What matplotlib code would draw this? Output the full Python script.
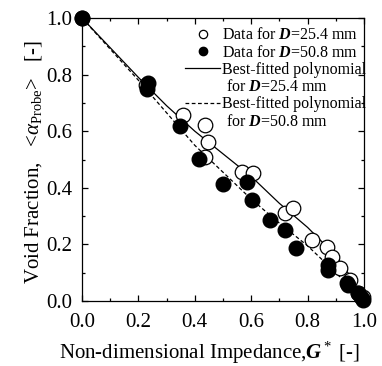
import matplotlib
matplotlib.use("Agg")
import matplotlib.pyplot as plt
from matplotlib.lines import Line2D
from matplotlib.ticker import MultipleLocator

plt.rcParams["font.family"] = ["Liberation Serif", "DejaVu Serif"]
plt.rcParams["mathtext.fontset"] = "custom"
plt.rcParams["mathtext.rm"] = "Liberation Serif"
plt.rcParams["mathtext.it"] = "Liberation Serif:italic"
plt.rcParams["mathtext.bf"] = "Liberation Serif:italic:bold"

# data for D = 25.4 mm (open circles)
g_254 = [0.0, 0.228, 0.359, 0.436, 0.448, 0.436, 0.566, 0.607, 0.72, 0.749,
         0.814, 0.868, 0.885, 0.915, 0.95, 0.98, 0.995]
a_254 = [1.0, 0.765, 0.657, 0.622, 0.563, 0.51, 0.457, 0.451, 0.31, 0.327,
         0.216, 0.19, 0.157, 0.116, 0.074, 0.03, 0.015]

# data for D = 50.8 mm (filled circles)
g_508 = [0.0, 0.233, 0.229, 0.348, 0.416, 0.501, 0.586, 0.604, 0.667, 0.72,
         0.759, 0.871, 0.873, 0.939, 0.944, 0.978, 0.99, 0.998]
a_508 = [1.0, 0.769, 0.748, 0.618, 0.502, 0.413, 0.422, 0.357, 0.286, 0.251,
         0.186, 0.127, 0.11, 0.062, 0.057, 0.03, 0.013, 0.005]

# best-fitted polynomial curves
fit_g = [0.0, 0.1, 0.2, 0.3, 0.4, 0.5, 0.6, 0.7, 0.8, 0.9, 0.95, 1.0]
fit_254 = [1.0, 0.895, 0.79, 0.69, 0.60, 0.52, 0.44, 0.345, 0.26, 0.16, 0.09, 0.0]
fit_508 = [1.0, 0.89, 0.78, 0.665, 0.55, 0.455, 0.36, 0.275, 0.195, 0.10, 0.05, 0.0]

fig = plt.figure(figsize=(3.82, 3.66), dpi=100)
ax = fig.add_axes([0.2147, 0.1776, 0.7382, 0.7732])

ax.plot(g_254, a_254, "o", mfc="white", mec="black", mew=0.9, ms=10.5,
        clip_on=False, zorder=3)
ax.plot(g_508, a_508, "o", mfc="black", mec="black", ms=10.5,
        clip_on=False, zorder=4)
ax.plot(fit_g, fit_254, "-", color="black", lw=0.9)
ax.plot(fit_g, fit_508, "--", color="black", lw=0.9, dashes=(3, 2))

ax.set_xlim(0, 1.0)
ax.set_ylim(0, 1.0)
ax.xaxis.set_major_locator(MultipleLocator(0.2))
ax.xaxis.set_minor_locator(MultipleLocator(0.1))
ax.yaxis.set_major_locator(MultipleLocator(0.2))
ax.yaxis.set_minor_locator(MultipleLocator(0.1))
ax.xaxis.set_major_formatter(lambda v, p: f"{v:.1f}")
ax.yaxis.set_major_formatter(lambda v, p: f"{v:.1f}")
ax.tick_params(which="both", direction="in", top=True, right=True,
               labelsize=15, width=0.9)
ax.tick_params(which="major", length=4)
ax.tick_params(axis="x", which="major", pad=8.5)
ax.tick_params(axis="y", which="major", pad=7)
ax.tick_params(which="minor", length=2.5)
for s in ax.spines.values():
    s.set_linewidth(0.9)

ax.set_xlabel("Non-dimensional Impedance,$\\mathbf{G}^*$ [-]", fontsize=15,
              labelpad=6)
ax.set_ylabel("Void Fraction,   <$\\alpha_{\\mathrm{Probe}}$>   [-]", fontsize=15,
              labelpad=1.5)
ax.xaxis.label.set_x(0.45)
ax.yaxis.label.set_y(0.49)

# legend: two-line labels are split so the handle sits on the first line
blank = Line2D([], [], color="none")
handles = [
    Line2D([], [], ls="none", marker="o", mfc="white", mec="black", ms=6, mew=0.9),
    Line2D([], [], ls="none", marker="o", mfc="black", mec="black", ms=6),
    Line2D([], [], ls="-", color="black", lw=0.9),
    blank,
    Line2D([], [], ls="--", color="black", lw=0.9, dashes=(3, 2)),
    blank,
]
labels = [
    "Data for $\\mathbf{D}$=25.4 mm",
    "Data for $\\mathbf{D}$=50.8 mm",
    "Best-fitted polynomial",
    " for $\\mathbf{D}$=25.4 mm",
    "Best-fitted polynomial",
    " for $\\mathbf{D}$=50.8 mm",
]
ax.legend(handles, labels, loc="upper left", bbox_to_anchor=(0.365, 0.967),
          frameon=False, fontsize=11.5, handlelength=2.2, handletextpad=0.1,
          labelspacing=0.08, borderaxespad=0, borderpad=0)

fig.savefig("out.png", dpi=100)
